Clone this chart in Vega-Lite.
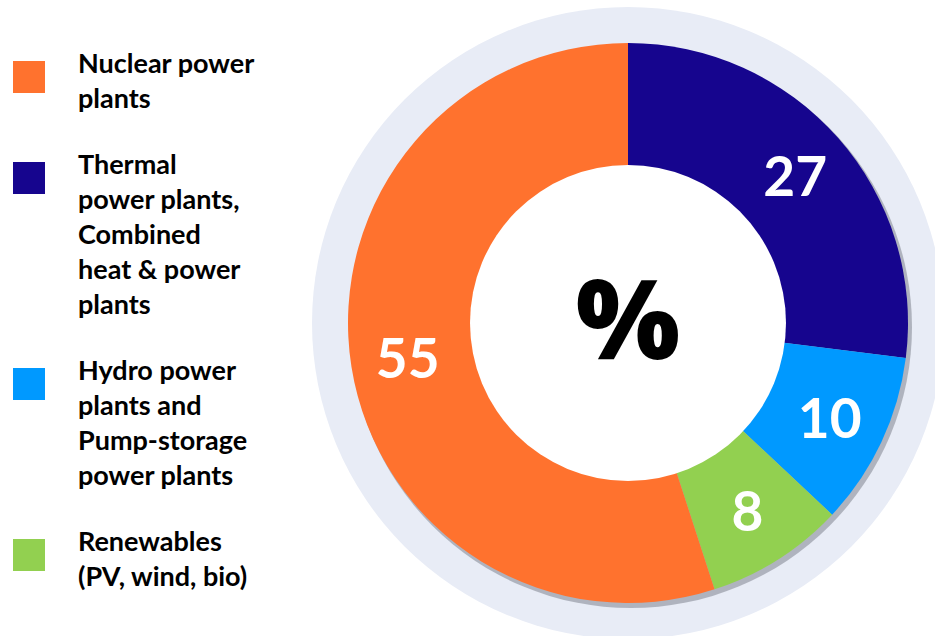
{
  "$schema": "https://vega.github.io/schema/vega-lite/v6.json",
  "width": 614,
  "height": 646,
  "autosize": {"type": "none"},
  "padding": {"left": 321, "top": 0, "right": 0, "bottom": 0},
  "background": "white",
  "config": {"view": {"stroke": null}, "style": {"guide-label": {"lineHeight": 35}}},
  "data": {"values": [
    {"source": "Thermal|power plants,|Combined|heat & power|plants", "share": 27, "rank": 1},
    {"source": "Hydro power|plants and|Pump-storage|power plants", "share": 10, "rank": 2},
    {"source": "Renewables|(PV, wind, bio)", "share": 8, "rank": 3},
    {"source": "Nuclear power|plants", "share": 55, "rank": 4}
  ]},
  "layer": [
    {
      "data": {"values": [{"k": 1}]},
      "mark": {"type": "arc", "theta": 0, "theta2": 6.2832, "outerRadius": 316, "innerRadius": 0, "fill": "#e8ecf6"},
      "encoding": {}
    },
    {
      "data": {"values": [{"k": 1}]},
      "mark": {"type": "arc", "theta": 0, "theta2": 6.2832, "outerRadius": 281, "innerRadius": 0, "fill": "#6b6f7a", "opacity": 0.45, "xOffset": 3, "yOffset": 4},
      "encoding": {}
    },
    {
      "mark": {"type": "arc", "outerRadius": 280, "innerRadius": 0},
      "encoding": {
        "theta": {"field": "share", "type": "quantitative", "stack": true},
        "order": {"field": "rank", "type": "quantitative"},
        "color": {
          "field": "source", "type": "nominal",
          "scale": {
            "domain": ["Nuclear power|plants", "Thermal|power plants,|Combined|heat & power|plants", "Hydro power|plants and|Pump-storage|power plants", "Renewables|(PV, wind, bio)"],
            "range": ["#ff722e", "#16058e", "#0099ff", "#92d050"]
          },
          "legend": {
            "orient": "none", "legendX": -308, "legendY": 61, "title": null,
            "direction": "vertical", "padding": 0,
            "symbolType": "square", "symbolSize": 1024, "symbolStrokeWidth": 0, "symbolOpacity": 1,
            "labelFont": "Lato", "labelFontSize": 27, "labelFontWeight": "bold", "labelColor": "black",
            "labelLimit": 0, "labelOffset": 33, "labelBaseline": "alphabetic",
            "labelExpr": "split(datum.label, '|')", "rowPadding": 39,
            "encode": {"labels": {"update": {"dy": {"value": -4}}}}
          }
        }
      }
    },
    {
      "data": {"values": [{"k": 1}]},
      "mark": {"type": "arc", "theta": 0, "theta2": 6.2832, "outerRadius": 158, "innerRadius": 0, "fill": "white"},
      "encoding": {}
    },
    {
      "mark": {"type": "text", "radius": 223, "font": "Lato", "fontSize": 55, "fontWeight": "bold", "fill": "white", "dy": 3},
      "encoding": {
        "theta": {"field": "share", "type": "quantitative", "stack": true},
        "order": {"field": "rank", "type": "quantitative"},
        "detail": {"field": "source"},
        "text": {"field": "share", "type": "quantitative"}
      }
    },
    {
      "data": {"values": [{"t": "%"}]},
      "mark": {"type": "text", "font": "Open Sans", "fontSize": 110, "fontWeight": 800, "fill": "black", "dy": 3},
      "encoding": {"text": {"field": "t"}}
    }
  ]
}
